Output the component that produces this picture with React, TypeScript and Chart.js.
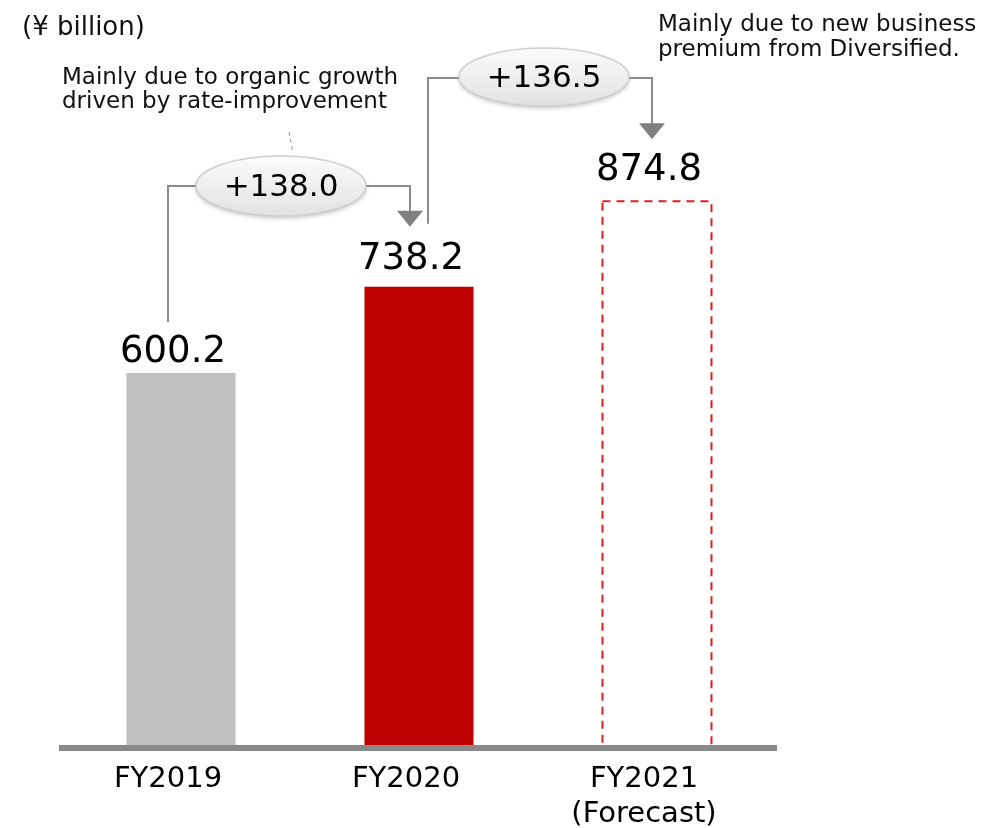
import React, { useEffect, useRef } from "react";
import { Chart, registerables } from "chart.js";

Chart.register(...registerables);

// ---- data ----
const categories: string[][] = [["FY2019"], ["FY2020"], ["FY2021", "(Forecast)"]];
const values: number[] = [600.2, 738.2, 874.8];
const valueLabels: string[] = ["600.2", "738.2", "874.8"];
const changeLabels: string[] = ["+138.0", "+136.5"];
const noteLeft: string[] = ["Mainly due to organic growth", "driven by rate-improvement"];
const noteRight: string[] = ["Mainly due to new business", "premium from Diversified."];
const unitLabel = "(¥ billion)";

// ---- styles ----
const FONT = "'DejaVu Sans', Verdana, sans-serif";
const barColors = ["#bfbfbf", "#c00000", "rgba(0,0,0,0)"];
const labelGaps = [11, 18, 21];

const annotationPlugin = {
  id: "annotations",
  afterDatasetsDraw(chart: any) {
    const ctx: CanvasRenderingContext2D = chart.ctx;
    const meta = chart.getDatasetMeta(0);
    const bars = meta.data.map((b: any) => b.getProps(["x", "y", "base", "width"], true));

    ctx.save();
    // dashed forecast bar
    const fb = bars[2];
    ctx.strokeStyle = "#d82020";
    ctx.lineWidth = 2;
    ctx.setLineDash([8, 6]);
    ctx.strokeRect(fb.x - fb.width / 2, fb.y, fb.width, fb.base - fb.y);
    ctx.setLineDash([]);

    // value labels
    ctx.fillStyle = "#000";
    ctx.font = `37px ${FONT}`;
    ctx.textAlign = "center";
    ctx.textBaseline = "alphabetic";
    bars.forEach((b: any, i: number) => {
      ctx.fillText(valueLabels[i], b.x - 8, b.y - labelGaps[i]);
    });
    ctx.restore();
  },
  afterDraw(chart: any) {
    const ctx: CanvasRenderingContext2D = chart.ctx;
    const meta = chart.getDatasetMeta(0);
    const bars = meta.data.map((b: any) => b.getProps(["x", "y", "base", "width"], true));

    const e1 = { cx: 281, cy: 186, rx: 85, ry: 30 };
    const e2 = { cx: 544, cy: 77, rx: 85, ry: 29 };

    ctx.save();
    ctx.strokeStyle = "#8a8a8a";
    ctx.fillStyle = "#808080";
    ctx.lineWidth = 2;

    const poly = (pts: number[][]) => {
      ctx.beginPath();
      ctx.moveTo(pts[0][0], pts[0][1]);
      for (let i = 1; i < pts.length; i++) ctx.lineTo(pts[i][0], pts[i][1]);
      ctx.stroke();
    };
    const arrow = (x: number, tip: number) => {
      ctx.beginPath();
      ctx.moveTo(x - 13, tip - 16);
      ctx.lineTo(x + 13, tip - 16);
      ctx.lineTo(x, tip);
      ctx.closePath();
      ctx.fill();
    };

    // connector 1
    const c1x = bars[0].x - 13;
    const c1r = bars[1].x - 9;
    const tip1 = bars[1].y - 60;
    poly([[c1x, bars[0].y - 51], [c1x, e1.cy], [e1.cx - e1.rx, e1.cy]]);
    poly([[e1.cx + e1.rx, e1.cy], [c1r, e1.cy], [c1r, tip1 - 15]]);
    arrow(c1r, tip1);

    // connector 2
    const c2x = bars[1].x + 9;
    const c2r = bars[2].x - 5;
    const tip2 = bars[2].y - 62;
    poly([[c2x, bars[1].y - 63], [c2x, e2.cy + 1], [e2.cx - e2.rx, e2.cy + 1]]);
    poly([[e2.cx + e2.rx, e2.cy + 1], [c2r, e2.cy + 1], [c2r, tip2 - 15]]);
    arrow(c2r, tip2);

    // leader dashed line
    ctx.strokeStyle = "#999";
    ctx.lineWidth = 1;
    ctx.setLineDash([4, 3]);
    poly([[289, 132], [293, 153]]);
    ctx.setLineDash([]);

    // ellipses
    const drawEllipse = (e: any, text: string) => {
      ctx.save();
      ctx.shadowColor = "rgba(0,0,0,0.25)";
      ctx.shadowBlur = 4;
      ctx.shadowOffsetY = 2;
      const g = ctx.createLinearGradient(0, e.cy - e.ry, 0, e.cy + e.ry);
      g.addColorStop(0, "#fbfbfb");
      g.addColorStop(1, "#e2e2e2");
      ctx.fillStyle = g;
      ctx.beginPath();
      ctx.ellipse(e.cx, e.cy, e.rx, e.ry, 0, 0, Math.PI * 2);
      ctx.fill();
      ctx.restore();
      ctx.strokeStyle = "#cfcfcf";
      ctx.lineWidth = 1.5;
      ctx.beginPath();
      ctx.ellipse(e.cx, e.cy, e.rx, e.ry, 0, 0, Math.PI * 2);
      ctx.stroke();
      ctx.fillStyle = "#000";
      ctx.font = `31px ${FONT}`;
      ctx.textAlign = "center";
      ctx.textBaseline = "middle";
      ctx.fillText(text, e.cx, e.cy + 2);
    };
    drawEllipse(e1, changeLabels[0]);
    drawEllipse(e2, changeLabels[1]);

    // notes
    ctx.fillStyle = "#111";
    ctx.textAlign = "left";
    ctx.textBaseline = "alphabetic";
    ctx.font = `26px ${FONT}`;
    ctx.fillText(unitLabel, 22, 35);
    ctx.font = `23px ${FONT}`;
    noteLeft.forEach((t, i) => ctx.fillText(t, 62, 84 + i * 24));
    noteRight.forEach((t, i) => ctx.fillText(t, 658, 31 + i * 25));
    ctx.restore();
  },
};

export default function App() {
  const ref = useRef<HTMLCanvasElement | null>(null);
  useEffect(() => {
    if (!ref.current) return;
    const chart = new Chart(ref.current, {
      type: "bar",
      data: {
        labels: categories,
        datasets: [
          {
            data: values,
            backgroundColor: barColors,
            borderWidth: 0,
            barPercentage: 0.458,
            categoryPercentage: 1,
          },
        ],
      },
      options: {
        responsive: true,
        maintainAspectRatio: false,
        animation: false,
        events: [],
        layout: { padding: { left: 62, right: 229, top: 123, bottom: 0 } },
        plugins: {
          legend: { display: false },
          tooltip: { enabled: false },
          title: { display: false },
        },
        scales: {
          x: {
            grid: { display: false, drawTicks: false },
            border: { display: true, color: "#898989", width: 6, z: 1 },
            ticks: {
              color: "#000",
              font: { family: FONT, size: 29, lineHeight: 1.24 },
              padding: 13,
              labelOffset: -13,
              maxRotation: 0,
              autoSkip: false,
            },
            afterFit: (s: any) => {
              s.height = 80;
            },
          },
          y: { display: false, min: 0, max: 1000 },
        },
      },
      plugins: [annotationPlugin],
    } as any);
    return () => chart.destroy();
  }, []);
  return (
    <div style={{ position: "absolute", left: 0, top: 0, width: 1005, height: 828, background: "#fff" }}>
      <canvas ref={ref} />
    </div>
  );
}
